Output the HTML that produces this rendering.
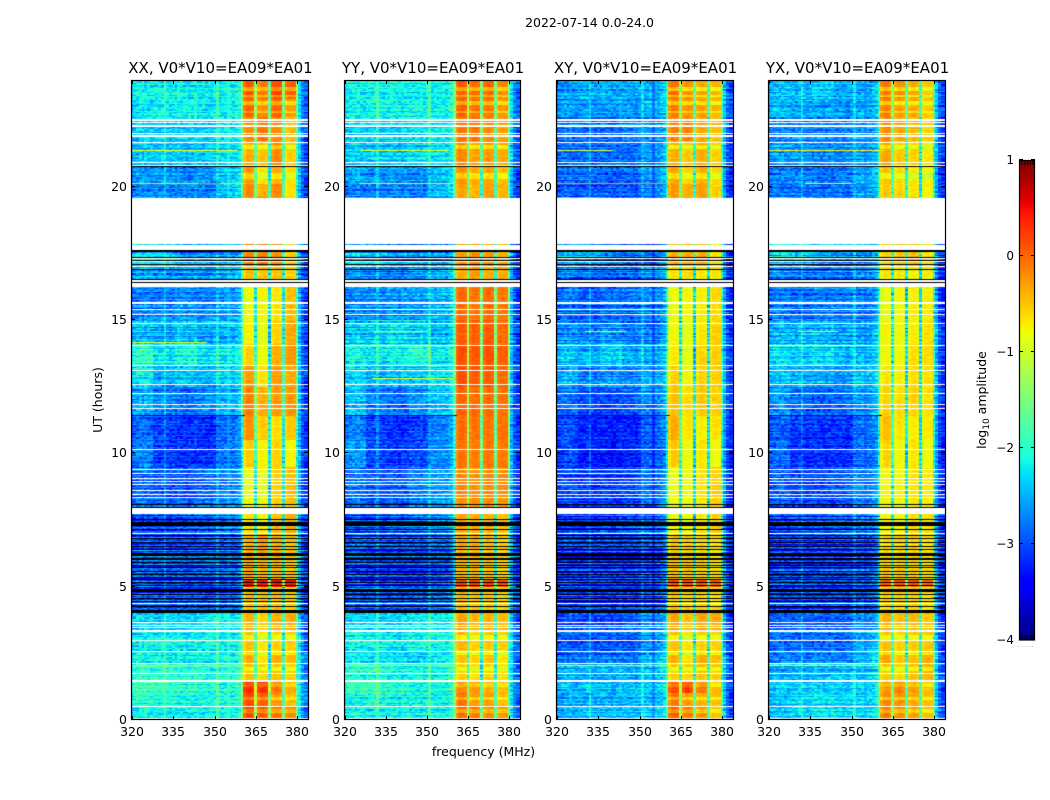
<!DOCTYPE html>
<html lang="en">
<head>
<meta charset="utf-8">
<title>2022-07-14 waterfall amplitude chart</title>
<style>
html,body{margin:0;padding:0;background:#fff;width:1050px;height:800px;overflow:hidden}
#stage{position:relative;width:1050px;height:800px;background:#fff}
canvas{position:absolute;display:block}
svg{position:absolute;left:0;top:0}
text{font-family:"DejaVu Sans","Liberation Sans",sans-serif;fill:#000}
</style>
</head>
<body>
<div id="stage">
<svg id="overlay" width="1050" height="800" viewBox="0 0 1050 800">
  <text x="589.5" y="27" text-anchor="middle" font-size="12.5">2022-07-14 0.0-24.0</text>
  <text x="483.5" y="756" text-anchor="middle" font-size="12.5">frequency (MHz)</text>
  <text transform="translate(102,400) rotate(-90)" text-anchor="middle" font-size="12.5">UT (hours)</text>
  <text transform="translate(986,400) rotate(-90)" text-anchor="middle" font-size="12.5">log<tspan font-size="9" dy="3">10</tspan><tspan dy="-3"> amplitude</tspan></text>
  <text x="1026" y="647" text-anchor="middle" font-size="6" fill="#888" style="fill:#888;letter-spacing:1px">......</text>
</svg>
</div>
<script>
/* ---------- axis data ---------- */
const freqTicks = [320, 335, 350, 365, 380];
const utTicks = [0, 5, 10, 15, 20];
const colorTicks = [-4, -3, -2, -1, 0, 1];
const panelTitles = ["XX, V0*V10=EA09*EA01", "YY, V0*V10=EA09*EA01", "XY, V0*V10=EA09*EA01", "YX, V0*V10=EA09*EA01"];

/* ---------- time blocks (UT hours at start of each block) ---------- */
const blockStartUT = [0,0.5,1,1.5,2.1,2.6,3.3,4,5,5.3,6.2,7,8,9.5,10.5,11.4,12.5,13.3,14.1,15,16.3,17,19.6,20.1,20.8,21.7,22.6,23.3];
const blockRowSwing = [0.7,0.7,0.7,0.7,0.7,0.7,0.6,1.7,1.7,1.7,1.7,1.6,0.8,0.6,0.6,0.6,0.8,0.9,1,1,1.2,1.4,0.7,0.7,0.7,0.7,0.7,0.7];

/* log10 amplitude per block: 5 low-band groups, 4 hot sub-bands, upper tail */
const xxBlocks = [
[-2.15,-2.15,-2.15,-2.15,-2.15,0.15,0.05,-0.1,-0.2,-2.7],
[-2.05,-2.05,-2.15,-2.15,-2.15,0.15,0.0,-0.3,-0.5,-2.7],
[-1.9,-1.95,-2.05,-2.05,-2.15,0.3,0.25,-0.1,-0.4,-2.7],
[-1.95,-1.95,-2.05,-2.05,-2.05,-0.5,-0.6,-0.5,-0.6,-2.7],
[-2.15,-2.2,-2.2,-2.2,-2.2,-0.4,-0.7,-0.4,-0.5,-2.7],
[-2.2,-2.2,-2.2,-2.2,-2.2,-0.5,-0.7,-0.6,-0.6,-2.8],
[-2.3,-2.3,-2.3,-2.2,-2.2,-0.4,-0.6,-0.4,-0.4,-2.9],
[-3.0,-3.05,-3.05,-3.05,-3.05,-0.5,-0.5,-0.5,-0.6,-3.05],
[-2.9,-3.05,-3.05,-3.05,-3.0,0.4,0.4,0.4,0.4,-3.0],
[-3.0,-3.05,-3.05,-3.0,-3.0,-0.4,-0.5,-0.5,-0.6,-3.05],
[-3.0,-3.05,-3.05,-3.0,-3.0,-0.4,-0.3,-0.4,-0.5,-3.05],
[-3.05,-3.05,-3.0,-2.9,-2.8,-0.7,-0.8,-0.5,-0.4,-3.05],
[-2.85,-2.95,-2.95,-2.85,-2.75,-0.85,-0.85,-0.6,-0.5,-3.05],
[-2.75,-3.05,-3.15,-3.15,-2.85,-0.55,-0.8,-0.6,-0.8,-3.05],
[-2.85,-3.05,-3.15,-3.15,-2.85,-0.25,-0.55,-0.65,-0.55,-3.05],
[-2.55,-2.75,-2.85,-2.75,-2.55,-0.15,-0.4,-0.3,-0.3,-3.05],
[-2.2,-2.5,-2.4,-2.5,-2.4,-0.3,-0.7,-0.3,-0.4,-3.0],
[-2.0,-2.3,-2.15,-2.3,-2.3,-0.6,-0.85,-0.4,-0.3,-3.0],
[-2.45,-2.55,-2.4,-2.55,-2.55,-0.8,-0.9,-0.6,-0.4,-3.0],
[-2.75,-2.75,-2.65,-2.75,-2.65,-0.85,-0.8,-0.7,-0.5,-3.05],
[-2.55,-2.65,-2.65,-2.65,-2.55,-0.5,-0.5,-0.5,-0.6,-3.05],
[-2.25,-2.35,-2.65,-2.65,-2.65,-0.2,-0.15,-0.25,-0.6,-3.05],
[-2.75,-2.75,-2.75,-2.75,-2.45,-0.2,-0.4,-0.2,-0.7,-3.0],
[-2.65,-2.65,-2.75,-2.65,-2.45,-0.3,-0.7,-0.4,-0.7,-3.0],
[-2.4,-2.4,-2.4,-2.4,-2.3,-0.4,-0.5,-0.2,-0.6,-2.9],
[-2.4,-2.4,-2.4,-2.4,-2.3,-0.2,-0.1,-0.2,-0.5,-2.9],
[-2.25,-2.15,-2.15,-2.2,-2.2,0.0,-0.2,0.0,-0.3,-2.8],
[-2.15,-2.15,-2.15,-2.2,-2.2,0.05,-0.1,0.15,0.0,-2.8]
];
const yyBlocks = [
[-2.15,-2.15,-2.15,-2.2,-2.2,-0.05,-0.1,-0.2,-0.3,-2.8],
[-2.15,-2.05,-2.15,-2.15,-2.2,-0.1,-0.3,-0.3,-0.5,-2.8],
[-1.95,-1.95,-2.05,-2.15,-2.15,-0.2,-0.3,-0.4,-0.5,-2.8],
[-2.05,-2.05,-2.15,-2.15,-2.15,-0.6,-0.7,-0.6,-0.7,-2.85],
[-2.2,-2.2,-2.3,-2.3,-2.2,-0.5,-0.6,-0.5,-0.7,-2.85],
[-2.2,-2.2,-2.3,-2.2,-2.2,-0.45,-0.6,-0.55,-0.6,-2.85],
[-2.3,-2.3,-2.3,-2.2,-2.2,-0.35,-0.45,-0.4,-0.5,-2.95],
[-3.05,-3.05,-3.05,-3.05,-2.95,-0.5,-0.55,-0.55,-0.65,-3.05],
[-2.95,-3.05,-3.05,-3.05,-2.95,0.2,0.2,0.2,0.1,-2.95],
[-2.95,-3.05,-3.05,-3.05,-2.95,-0.45,-0.45,-0.5,-0.6,-3.05],
[-2.95,-3.05,-3.05,-3.05,-2.95,-0.4,-0.4,-0.5,-0.6,-3.05],
[-3.05,-3.05,-2.95,-2.85,-2.75,-0.35,-0.4,-0.4,-0.5,-3.05],
[-2.85,-2.95,-2.95,-2.75,-2.65,-0.2,-0.25,-0.2,-0.25,-3.05],
[-2.65,-3.05,-3.15,-3.05,-2.75,-0.1,-0.15,-0.1,-0.15,-3.05],
[-2.75,-3.05,-3.15,-3.05,-2.75,-0.05,-0.1,-0.1,-0.1,-3.05],
[-2.45,-2.75,-2.85,-2.65,-2.45,0.0,-0.05,-0.05,-0.1,-3.05],
[-2.3,-2.5,-2.4,-2.4,-2.3,0.1,0.05,0.05,-0.05,-3.0],
[-2.15,-2.25,-2.15,-2.05,-2.25,0.1,0.05,0.1,0.0,-3.0],
[-2.4,-2.4,-2.3,-2.4,-2.5,0.05,0.0,0.05,-0.05,-3.0],
[-2.75,-2.75,-2.65,-2.65,-2.55,-0.05,-0.1,-0.05,-0.15,-3.05],
[-2.65,-2.75,-2.75,-2.65,-2.55,-0.4,-0.3,-0.4,-0.4,-3.05],
[-2.35,-2.45,-2.65,-2.65,-2.65,-0.3,-0.25,-0.3,-0.4,-3.05],
[-2.75,-2.75,-2.65,-2.75,-2.45,-0.35,-0.45,-0.3,-0.45,-3.0],
[-2.55,-2.65,-2.65,-2.65,-2.45,-0.25,-0.4,-0.35,-0.5,-3.0],
[-2.4,-2.4,-2.4,-2.3,-2.3,-0.2,-0.35,-0.3,-0.4,-2.9],
[-2.4,-2.4,-2.4,-2.3,-2.3,-0.1,-0.1,-0.2,-0.35,-2.9],
[-2.2,-2.15,-2.15,-2.15,-2.2,0.0,-0.1,-0.1,-0.3,-2.8],
[-2.15,-2.15,-2.15,-2.15,-2.2,0.05,-0.05,0.0,-0.2,-2.8]
];
const xyBlocks = [
[-2.55,-2.45,-2.45,-2.45,-2.35,0.05,-0.1,-0.25,-0.5,-2.95],
[-2.55,-2.45,-2.45,-2.45,-2.45,-0.1,-0.3,-0.4,-0.5,-2.95],
[-2.45,-2.45,-2.45,-2.45,-2.35,0.1,0.2,-0.1,-0.5,-2.95],
[-2.55,-2.55,-2.55,-2.55,-2.45,-0.6,-0.6,-0.5,-0.6,-2.95],
[-2.85,-2.85,-2.85,-2.85,-2.55,-0.4,-0.7,-0.4,-0.5,-2.95],
[-2.95,-2.95,-2.95,-2.95,-2.65,-0.5,-0.7,-0.6,-0.6,-3.05],
[-3.05,-3.05,-3.05,-2.95,-2.75,-0.35,-0.5,-0.35,-0.4,-3.15],
[-3.15,-3.15,-3.15,-3.15,-3.05,-0.55,-0.6,-0.6,-0.7,-3.15],
[-3.05,-3.15,-3.15,-3.15,-3.05,0.1,0.1,0.1,0.0,-3.05],
[-3.15,-3.15,-3.15,-3.15,-3.05,-0.5,-0.55,-0.6,-0.7,-3.15],
[-3.15,-3.15,-3.15,-3.15,-3.05,-0.55,-0.6,-0.65,-0.7,-3.15],
[-3.15,-3.15,-3.05,-2.95,-2.85,-0.85,-0.85,-0.7,-0.6,-3.15],
[-3.05,-3.15,-3.15,-3.05,-2.85,-0.85,-0.85,-0.7,-0.6,-3.15],
[-3.05,-3.25,-3.3,-3.25,-2.95,-0.55,-0.85,-0.7,-0.85,-3.15],
[-3.05,-3.25,-3.3,-3.25,-2.95,-0.4,-0.7,-0.75,-0.7,-3.15],
[-2.85,-3.05,-3.05,-2.95,-2.75,-0.5,-0.65,-0.55,-0.6,-3.05],
[-2.55,-2.75,-2.65,-2.75,-2.55,-0.6,-0.8,-0.6,-0.6,-3.05],
[-2.45,-2.55,-2.35,-2.55,-2.55,-0.75,-0.9,-0.6,-0.6,-3.05],
[-2.65,-2.75,-2.65,-2.75,-2.75,-0.8,-0.9,-0.7,-0.6,-3.05],
[-2.85,-2.95,-2.85,-2.85,-2.75,-0.85,-0.8,-0.75,-0.65,-3.15],
[-2.75,-2.85,-2.85,-2.85,-2.65,-0.7,-0.65,-0.7,-0.7,-3.15],
[-2.45,-2.55,-2.75,-2.85,-2.85,-0.4,-0.4,-0.4,-0.7,-3.15],
[-2.95,-2.95,-2.95,-2.95,-2.75,-0.3,-0.4,-0.3,-0.6,-3.15],
[-2.85,-2.85,-2.95,-2.85,-2.65,-0.35,-0.6,-0.4,-0.65,-3.15],
[-2.85,-2.85,-2.85,-2.85,-2.65,-0.4,-0.55,-0.4,-0.6,-3.05],
[-2.85,-2.85,-2.85,-2.75,-2.65,-0.15,-0.15,-0.35,-0.5,-3.05],
[-2.65,-2.65,-2.65,-2.65,-2.55,-0.15,-0.25,-0.3,-0.45,-2.95],
[-2.65,-2.55,-2.55,-2.55,-2.55,-0.05,-0.25,-0.35,-0.45,-2.95]
];
const yxBlocks = [
[-2.45,-2.35,-2.25,-2.35,-2.35,-0.1,-0.2,-0.3,-0.5,-2.95],
[-2.45,-2.35,-2.25,-2.35,-2.35,-0.2,-0.25,-0.35,-0.5,-2.95],
[-2.35,-2.35,-2.35,-2.35,-2.35,-0.25,-0.15,-0.3,-0.5,-2.95],
[-2.55,-2.55,-2.45,-2.45,-2.45,-0.55,-0.6,-0.5,-0.45,-2.95],
[-2.75,-2.75,-2.75,-2.75,-2.45,-0.35,-0.55,-0.5,-0.4,-2.95],
[-2.85,-2.85,-2.85,-2.85,-2.55,-0.5,-0.6,-0.55,-0.55,-3.05],
[-2.95,-2.95,-2.95,-2.95,-2.75,-0.4,-0.5,-0.45,-0.55,-3.15],
[-3.15,-3.15,-3.15,-3.15,-3.05,-0.6,-0.6,-0.6,-0.7,-3.15],
[-3.05,-3.15,-3.15,-3.15,-3.05,0.0,0.05,0.05,-0.05,-3.05],
[-3.15,-3.15,-3.15,-3.15,-3.05,-0.6,-0.6,-0.6,-0.7,-3.15],
[-3.15,-3.15,-3.15,-3.15,-3.05,-0.65,-0.6,-0.6,-0.7,-3.15],
[-3.15,-3.05,-3.05,-2.95,-2.85,-0.8,-0.8,-0.65,-0.7,-3.15],
[-2.95,-3.05,-3.05,-2.95,-2.75,-0.8,-0.8,-0.7,-0.75,-3.15],
[-2.85,-3.15,-3.15,-3.15,-2.85,-0.6,-0.8,-0.7,-0.85,-3.15],
[-2.95,-3.15,-3.15,-3.15,-2.85,-0.5,-0.7,-0.75,-0.75,-3.15],
[-2.65,-2.85,-2.95,-2.85,-2.65,-0.6,-0.65,-0.6,-0.7,-3.05],
[-2.45,-2.55,-2.55,-2.65,-2.45,-0.7,-0.75,-0.65,-0.7,-3.05],
[-2.25,-2.35,-2.25,-2.45,-2.45,-0.8,-0.8,-0.65,-0.65,-3.05],
[-2.55,-2.55,-2.55,-2.65,-2.65,-0.8,-0.85,-0.75,-0.7,-3.05],
[-2.75,-2.85,-2.75,-2.75,-2.75,-0.85,-0.8,-0.75,-0.75,-3.15],
[-2.65,-2.75,-2.75,-2.75,-2.65,-0.7,-0.7,-0.75,-0.75,-3.15],
[-2.35,-2.45,-2.65,-2.75,-2.75,-0.6,-0.55,-0.5,-0.75,-3.15],
[-2.85,-2.85,-2.85,-2.85,-2.65,-0.55,-0.6,-0.7,-0.8,-3.15],
[-2.75,-2.75,-2.85,-2.75,-2.55,-0.5,-0.65,-0.7,-0.8,-3.15],
[-2.65,-2.65,-2.75,-2.75,-2.65,-0.35,-0.55,-0.6,-0.75,-3.05],
[-2.75,-2.75,-2.75,-2.75,-2.65,-0.2,-0.35,-0.45,-0.6,-3.05],
[-2.45,-2.55,-2.55,-2.65,-2.55,-0.15,-0.3,-0.35,-0.55,-2.95],
[-2.45,-2.45,-2.35,-2.55,-2.55,-0.1,-0.25,-0.35,-0.55,-2.95]
];
const panelBlocks = [xxBlocks, yyBlocks, xyBlocks, yxBlocks];

/* which block column each 1 MHz channel (320..383) reads from */
const channelColumn = [
0,0,0,0,0,0,0,0, 1,1,1,1,1,1,1,1, 2,2,2,2,2,2,2,2, 3,3,3,3,3,3,3,3,
4,4,4,4,4,4,4,4,4, 5,5,5,5,5, 6,6,6,6,6, 7,7,7,7,7, 8,8,8,8,8, 9,9,9];
/* per-channel spectral shape in log10 units, including the sub-band dips */
const channelOffset = [
-0.25,-0.05,0,0.05,0,0.05,0,0,0,0,0,0.05,0.3,0,-0.05,0,0,0.05,0,0,-0.05,0,0,0.05,0,0,0,0,0,0,0.05,0.35,
0,0,0.05,0,0.05,0,0.1,0.2,0.7, -0.1,0.05,0.05,0,-1.35, -0.05,0.05,0.05,0,-1.5, -0.05,0.05,0.05,0,-1.55, -0.05,0.05,0.05,0.05,-1.3, 0.55,0.1,-0.1];
/* hand-typed streak and speckle tables */
const rowRipple = [0.12,-0.18,0.05,0.22,-0.1,-0.25,0.15,0.02,-0.14,0.24,-0.06,0.1,-0.28,0.18,0.04,-0.12,0.2,-0.2,0.08,0.14,-0.04,-0.22,0.26,-0.08,0.02,0.16,-0.26,0.06,0.2,-0.12,-0.02,0.1,-0.2,0.28,-0.16,0.04,0.12,-0.1,-0.24,0.18,0.0,-0.06,0.22,-0.18,0.08,-0.02,0.14];
const cellGrain = [0.18,-0.32,0.06,0.25,-0.12,-0.38,0.3,0.02,-0.22,0.14,0.34,-0.28,0.08,-0.05,0.22,-0.42,0.12,0.28,-0.16,0.04,-0.3,0.36,-0.08,0.16,-0.2,0.26,-0.36,0.1,0.0,-0.14,0.32,-0.24,0.2,-0.04,-0.34,0.24,0.08,-0.18,0.38,-0.1,-0.26,0.14,0.04,-0.4,0.28,-0.06,0.18,-0.2,0.1,0.3,-0.3,0.02,0.22,-0.12,-0.28,0.34,-0.02,0.16,-0.36,0.06,0.2];

/* UT ranges where the hot band sags: [from, to, change in log10 amplitude] */
const hotGapUT = [[23.6,23.72,-0.4],[23.32,23.44,-0.4],[23.04,23.16,-0.4],[22.72,22.82,-0.3],[21.4,21.55,-0.35],[20.3,20.5,-0.3],[3.0,3.2,-0.3],[2.45,2.6,-0.3],[1.85,2.0,-0.3],[1.25,1.4,-0.25],[0.72,0.85,-0.3],[0.25,0.38,-0.3]];

/* flagged time ranges in UT hours, shared by all four panels */
const whiteRowsUT = [[22.47,22.53],[22.4,22.43],[22.25,22.31],[21.97,22],[21.88,21.92],[21.66,21.69],[20.9,20.93],[20.78,20.83],[17.85,19.58],[17.61,17.8],[17.29,17.33],[17.18,17.21],[17,17.03],[16.43,16.51],[16.23,16.37],[15.6,15.67],[15.37,15.4],[15.19,15.22],[14.87,14.9],[14.05,14.08],[13.26,13.3],[13.1,13.13],[12.58,12.61],[12.24,12.27],[11.81,11.84],[11.67,11.7],[10.13,10.16],[9.39,9.42],[9.23,9.26],[9.03,9.06],[8.93,8.96],[8.81,8.84],[8.61,8.64],[8.44,8.47],[8.34,8.37],[7.72,7.95],[6.99,7.02],[4.36,4.39],[3.65,3.68],[3.55,3.58],[3.45,3.48],[3.31,3.36],[2.96,2.99],[2.57,2.6],[2.09,2.12],[1.75,1.78],[1.43,1.51],[0.48,0.51],[0.06,0.09]];
const blackRowsUT = [[20.74,20.77],[17.55,17.61],[17.35,17.38],[17.23,17.26],[17.08,17.11],[16.86,16.9],[16.52,16.55],[16.38,16.41],[8.06,8.1],[7.98,8],[7.52,7.55],[7.27,7.43],[7.16,7.18],[6.9,6.93],[6.79,6.81],[6.65,6.68],[6.5,6.53],[6.4,6.43],[6.15,6.26],[6.06,6.08],[6,6.02],[5.9,5.93],[5.81,5.83],[5.69,5.72],[5.56,5.59],[5.47,5.49],[5.35,5.38],[5.25,5.28],[5.13,5.16],[5.05,5.07],[4.8,4.91],[4.69,4.72],[4.56,4.59],[4.44,4.47],[4.25,4.28],[4.01,4.12]];

/* bright or dark single rows: [UT hour, from MHz, to MHz, log10 amplitude] */
const xxRows = [[20.08,320,361,-0.6],[20.08,344,352,-0.1],[21.33,320,358,-0.8],[14.13,320,347,-0.9],[2.03,320,360,-0.7],[11.39,320,361,-3.5]];
const yyRows = [[20.08,325,360,-0.7],[21.33,326,358,-0.9],[12.78,330,360,-0.9],[14.55,330,350,-1],[2.03,320,360,-1.1],[11.39,320,361,-3.5]];
const xyRows = [[20.08,320,360,-0.2],[21.33,320,340,-1],[14.55,330,345,-1.1],[2.03,320,360,-0.7],[11.39,320,361,-3.6]];
const yxRows = [[20.08,333,350,-0.85],[21.33,320,362,-0.7],[14.55,330,345,-1.1],[2.03,320,360,-0.9],[11.39,320,361,-3.6]];
const panelRows = [xxRows, yyRows, xyRows, yxRows];

/* ---------- scales and colour map ---------- */
const panelLeft = [131, 344, 556, 768];
const panelWidth = [177, 176, 177, 177];
const panelTop = 80, panelH = 640;
const cbarLeft = 1019, cbarTop = 160, cbarW = 16, cbarH = 480;
const rowStep = 0.05;
/* x offset inside the plot area, in pixels */
const xOffset = (mhz, p) => (mhz - 320) * (panelWidth[p] - 1) / 64;
const xScale = (mhz, p) => panelLeft[p] + 1 + xOffset(mhz, p);
const yScale = ut => panelTop + panelH - ut * panelH / 24;
const cbarY = v => cbarTop + cbarH - (v + 4) * cbarH / 5;

function ramp(t, pts) {
  for (let i = 1; i < pts.length; i++) {
    if (t <= pts[i][0]) {
      const a = pts[i - 1], b = pts[i];
      return a[1] + (b[1] - a[1]) * (t - a[0]) / (b[0] - a[0]);
    }
  }
  return pts[pts.length - 1][1];
}
const jetR = [[0,0],[0.35,0],[0.66,1],[0.89,1],[1,0.5]];
const jetG = [[0,0],[0.125,0],[0.375,1],[0.64,1],[0.91,0],[1,0]];
const jetB = [[0,0.5],[0.11,1],[0.34,1],[0.65,0],[1,0]];
function colour(v) {
  const t = Math.max(0, Math.min(1, (v + 4) / 5));
  return "rgb(" + Math.round(ramp(t, jetR) * 255) + "," + Math.round(ramp(t, jetG) * 255) + "," + Math.round(ramp(t, jetB) * 255) + ")";
}
function blockIndex(ut) {
  let idx = 0;
  for (let i = 0; i < blockStartUT.length; i++) if (ut >= blockStartUT[i]) idx = i;
  return idx;
}
function hotGap(ut) {
  let d = 0;
  hotGapUT.forEach(function (g) { if (ut >= g[0] && ut < g[1]) d = g[2]; });
  return d;
}

/* ---------- drawing ---------- */
const stage = document.getElementById("stage");
const overlay = document.getElementById("overlay");
const NS = "http://www.w3.org/2000/svg";
function svgEl(tag, attrs, txt) {
  const el = document.createElementNS(NS, tag);
  for (const k in attrs) el.setAttribute(k, attrs[k]);
  if (txt !== undefined) el.textContent = txt;
  overlay.appendChild(el);
  return el;
}
function tickLine(x1, y1, x2, y2) {
  const el = svgEl("line", {x1: x1, y1: y1, x2: x2, y2: y2, stroke: "#000", "stroke-width": 1});
  
  
}

function drawPanel(p) {
  const left = panelLeft[p];
  const width = panelWidth[p];
  const blocks = panelBlocks[p];
  const cv = document.createElement("canvas");
  cv.width = width - 1;
  cv.height = panelH;
  cv.style.left = (left + 1) + "px";
  cv.style.top = panelTop + "px";
  
  
  stage.insertBefore(cv, overlay);
  const g = cv.getContext("2d");
  const rows = Math.round(24 / rowStep);

  for (let r = 0; r < rows; r++) {
    const ut = r * rowStep;
    const b = blockIndex(ut);
    const gap = hotGap(ut);
    const yA = Math.round(yScale(ut + rowStep)) - panelTop;
    const yB = Math.round(yScale(ut)) - panelTop;
    const ripple = rowRipple[(r + p * 5) % rowRipple.length] * blockRowSwing[b];
    for (let c = 0; c < 64; c++) {
      const col = channelColumn[c];
      const hot = col >= 5 && col <= 8 && channelOffset[c] > -1;
      const grain = cellGrain[(c * r * 3 + c * c * 5 + r * 17 + c * 11 + p * 7) % cellGrain.length];
      const v = blocks[b][col] + channelOffset[c] + (hot ? gap + (ripple + grain) * 0.2 : ripple + grain * 0.75);
      g.fillStyle = colour(v);
      /* channels are centred on their frequency, so each cell spans mhz-0.5 to mhz+0.5 */
      const xA = Math.max(0, Math.round(xOffset(319.5 + c, p)));
      const xB = c === 63 ? width - 1 : Math.round(xOffset(320.5 + c, p));
      g.fillRect(xA, yA, xB - xA, yB - yA);
    }
  }

  panelRows[p].forEach(function (row) {
    const xA = Math.round(xOffset(row[1], p));
    const xB = Math.round(xOffset(row[2], p));
    g.fillStyle = colour(row[3]);
    g.fillRect(xA, Math.round(yScale(row[0] + rowStep)) - panelTop, xB - xA, 1);
  });

  function band(list, fill) {
    g.fillStyle = fill;
    list.forEach(function (span) {
      const yA = Math.round(yScale(span[1])) - panelTop;
      const yB = Math.round(yScale(span[0])) - panelTop;
      g.fillRect(0, yA, width, Math.max(1, yB - yA));
    });
  }
  band(whiteRowsUT, "#fff");
  band(blackRowsUT, "#000");

  const frame = svgEl("rect", {x: left + 0.5, y: panelTop + 0.5, width: width, height: panelH - 1, fill: "none", stroke: "#000", "stroke-width": 1.2});
  
  

  const title = svgEl("text", {x: left + width / 2 + 1, y: 73, "text-anchor": "middle", "font-size": 15}, panelTitles[p]);
  
  

  freqTicks.forEach(function (f) {
    const x = Math.round(xScale(f, p)) + 0.5;
    tickLine(x, panelTop, x, panelTop + 4);
    tickLine(x, panelTop + panelH, x, panelTop + panelH - 4);
    const lab = svgEl("text", {x: x - 0.5, y: 736, "text-anchor": "middle", "font-size": 12.5}, String(f));
    
    
  });
  utTicks.forEach(function (u) {
    const y = Math.round(yScale(u)) - 0.5;
    tickLine(left, y, left + 4, y);
    tickLine(left + width, y, left + width - 4, y);
    const lab = svgEl("text", {x: left - 4, y: y + 4.5, "text-anchor": "end", "font-size": 12.5}, String(u));
    
    
  });
}

function drawColourbar() {
  const cv = document.createElement("canvas");
  cv.width = cbarW;
  cv.height = cbarH;
  cv.style.left = cbarLeft + "px";
  cv.style.top = cbarTop + "px";
  
  
  stage.insertBefore(cv, overlay);
  const g = cv.getContext("2d");
  for (let y = 0; y < cbarH; y++) {
    g.fillStyle = colour(1 - (y + 0.5) * 5 / cbarH);
    g.fillRect(0, y, cbarW, 1);
  }
  const frame = svgEl("rect", {x: cbarLeft + 0.5, y: cbarTop + 0.5, width: cbarW - 1, height: cbarH - 0.5, fill: "none", stroke: "#000", "stroke-width": 1.2});
  
  
  colorTicks.forEach(function (v) {
    const y = Math.round(cbarY(v)) - 0.5;
    tickLine(cbarLeft, y, cbarLeft + 4, y);
    tickLine(cbarLeft + cbarW, y, cbarLeft + cbarW - 4, y);
    const lab = svgEl("text", {x: cbarLeft - 5, y: y + 4.5, "text-anchor": "end", "font-size": 12}, v < 0 ? "\u2212" + Math.abs(v) : String(v));
    
    
  });
  for (let i = 1; i < 6; i++) {
    const x = cbarLeft + i * 2.7 + 0.5;
    tickLine(x, cbarTop, x, cbarTop + 5);
    tickLine(x, cbarTop + cbarH, x, cbarTop + cbarH - 5);
  }
}

panelTitles.forEach(function (_, p) { drawPanel(p); });
drawColourbar();
</script>
</body>
</html>
